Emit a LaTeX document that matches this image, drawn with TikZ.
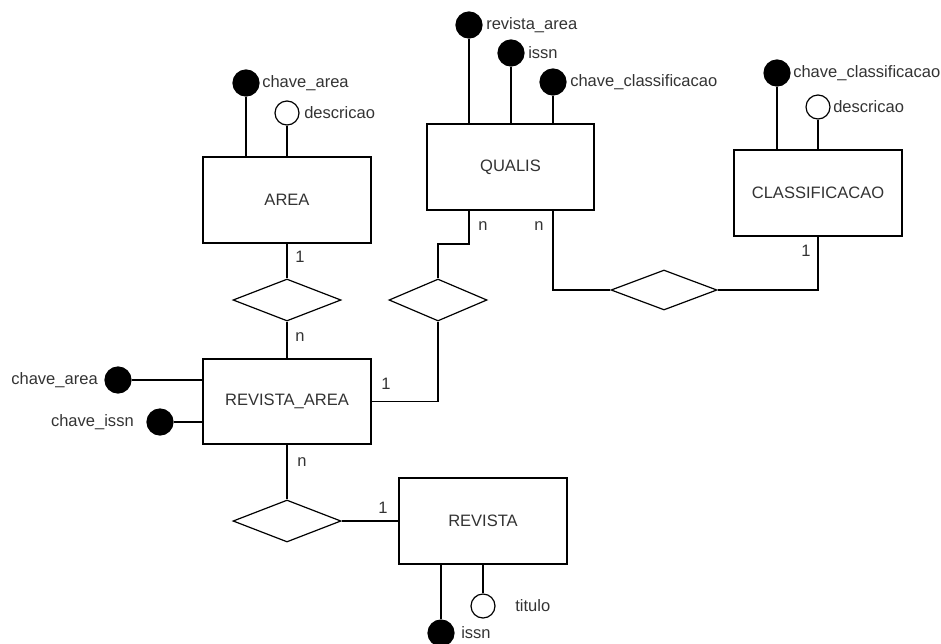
\documentclass[tikz,border=0pt]{standalone}
\usepackage{fontspec}
\setmainfont{Liberation Sans}
\usetikzlibrary{shapes.geometric}
\definecolor{txt}{HTML}{333333}
\begin{document}
\begin{tikzpicture}[x=0.75pt,y=-0.75pt,
  every node/.style={font=\fontsize{12.4}{14}\selectfont, text=txt},
  conn/.style={draw=black, line width=0.9pt},
  entity/.style={draw=black, line width=0.9pt, fill=white, minimum width=126pt, minimum height=64.5pt, inner sep=0pt},
  rel/.style={draw=black, line width=0.9pt, fill=white, diamond, inner sep=0pt, minimum width=81pt, minimum height=31.5pt},
  keyattr/.style={draw=black, line width=0.9pt, fill=black, circle, inner sep=0pt, minimum size=19.5pt},
  attr/.style={draw=black, line width=0.9pt, fill=white, circle, inner sep=0pt, minimum size=18pt},
  atxt/.style={inner sep=0pt, anchor=west},
  card/.style={inner sep=0pt}]
\useasboundingbox (0,0) rectangle (941,643);

% entities
\node[entity] (area) at (287,200) {AREA};
\node[entity, minimum width=125.25pt] (qualis) at (510.5,167) {QUALIS};
\node[entity] (cl) at (818,193) {CLASSIFICACAO};
\node[entity, minimum height=63.75pt] (ra) at (287,401.5) {REVISTA\_AREA};
\node[entity] (rv) at (483,521) {REVISTA};

% relationships
\node[rel] (d1) at (287,300) {};
\node[rel, minimum width=73.5pt] (d2) at (438,300) {};
\node[rel, minimum width=79.5pt, minimum height=30pt] (d3) at (664,290) {};
\node[rel] (d4) at (287,521) {};

% attributes of AREA
\node[keyattr] (akey) at (246,83) {};
\node[atxt] (akeyt) at (262,83) {chave\_area};
\node[attr] (adesc) at (287,113) {};
\node[atxt] (adesct) at (304,113) {descricao};
\draw[conn] (akey.south) -- (akey.south |- area.north);
\draw[conn] (adesc.south) -- (adesc.south |- area.north);

% attributes of QUALIS
\node[keyattr] (qra) at (469,25) {};
\node[atxt] (qrat) at (486,25) {revista\_area};
\node[keyattr] (qissn) at (511,53) {};
\node[atxt] (qissnt) at (528,53) {issn};
\node[keyattr] (qcc) at (553,82) {};
\node[atxt] (qcct) at (570,82) {chave\_classificacao};
\draw[conn] (qra.south) -- (qra.south |- qualis.north);
\draw[conn] (qissn.south) -- (qissn.south |- qualis.north);
\draw[conn] (qcc.south) -- (qcc.south |- qualis.north);

% attributes of CLASSIFICACAO
\node[keyattr] (ckey) at (777,73) {};
\node[atxt] (ckeyt) at (793,73) {chave\_classificacao};
\node[attr] (cdesc) at (818,107) {};
\node[atxt] (cdesct) at (833,107) {descricao};
\draw[conn] (ckey.south) -- (ckey.south |- cl.north);
\draw[conn] (cdesc.south) -- (cdesc.south |- cl.north);

% attributes of REVISTA_AREA
\node[keyattr] (rakey) at (118,380) {};
\node[inner sep=0pt, anchor=east] (rakeyt) at (98,380) {chave\_area};
\node[keyattr] (raissn) at (160,422) {};
\node[inner sep=0pt, anchor=east] (raissnt) at (134,422) {chave\_issn};
\draw[conn] (rakey.east) -- (rakey.east -| ra.west);
\draw[conn] (raissn.east) -- (raissn.east -| ra.west);

% attributes of REVISTA
\node[keyattr] (rvissn) at (441,633) {};
\node[atxt] (rvissnt) at (461,633) {issn};
\node[attr] (rvtit) at (483,606) {};
\node[atxt] (rvtitt) at (515,606) {titulo};
\draw[conn] (rvissn.north) -- (rvissn.north |- rv.south);
\draw[conn] (rvtit.north) -- (rvtit.north |- rv.south);

% AREA -- REVISTA_AREA
\draw[conn] (area.south) -- (d1.north);
\draw[conn] (d1.south) -- (ra.north);
\node[card] (c1a) at (300,257) {1};
\node[card] (c1b) at (300,337) {n};

% QUALIS -- REVISTA_AREA
\coordinate (q2) at (469,210);
\coordinate (q2b) at (469,244);
\draw[conn] (q2) -- (q2b) -| (d2.north);
\draw[conn] (d2.south) |- (ra.east);
\node[card] (c2a) at (483,226) {n};
\node[card] (c2b) at (386,384) {1};

% QUALIS -- CLASSIFICACAO
\coordinate (q3) at (553,210);
\draw[conn] (q3) |- (d3.west);
\draw[conn] (d3.east) -| (cl.south);
\node[card] (c3a) at (539,226) {n};
\node[card] (c3b) at (806,251) {1};

% REVISTA_AREA -- REVISTA
\draw[conn] (ra.south) -- (d4.north);
\draw[conn] (d4.east) -- (rv.west);
\node[card] (c4a) at (302,462) {n};
\node[card] (c4b) at (383,508) {1};
\end{tikzpicture}
\end{document}
